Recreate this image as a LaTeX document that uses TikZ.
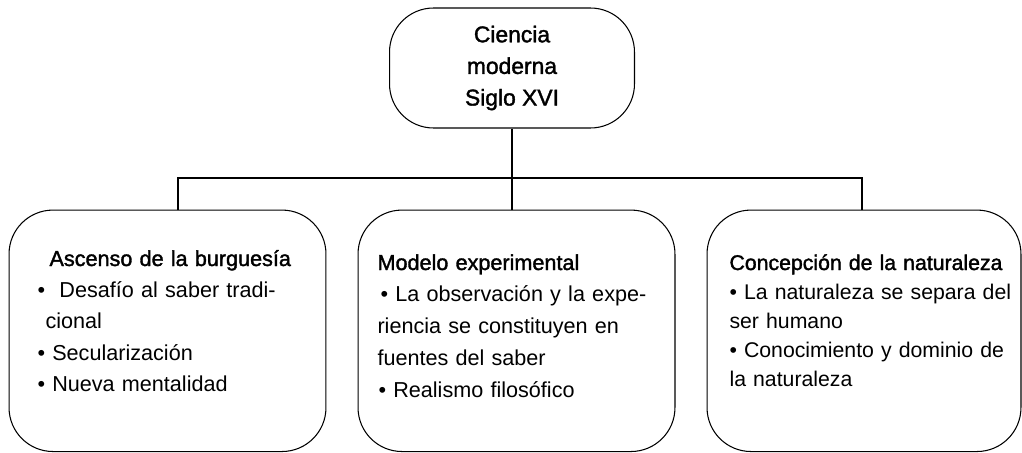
\documentclass[tikz,border=0pt]{standalone}
\usepackage{fontspec}
\setmainfont{Liberation Sans}
\newfontface\medfont{Liberation Sans}[FakeBold=1.6]
\usetikzlibrary{positioning}
\newcommand{\linea}[1]{\makebox[\linewidth][s]{#1}}
\tikzset{
  rama/.style = {draw, rounded corners=0.88cm, inner sep=0pt},
  lista/.style = {anchor=base west, inner sep=0pt}
}

\begin{document}
\begin{tikzpicture}[x=0.02cm, y=-0.02cm, line width=0.6pt]

  \useasboundingbox (0,0) rectangle (1022,453);

  %% Ciencia moderna

  % Main box
  \node[rama, minimum width=4.9cm, minimum height=2.4cm, align=center,
        font=\fontsize{13}{18}\medfont] (ciencia) at (512,68)
        {Ciencia\\ moderna\\ Siglo XVI};

  % Branch boxes
  \node[rama, minimum width=6.34cm, minimum height=4.83cm] (ascenso) at (167.5,330.8) {};
  \node[rama, minimum width=6.34cm, minimum height=4.83cm] (modelo) at (516.5,330.8) {};
  \node[rama, minimum width=6.28cm, minimum height=4.83cm] (concepcion) at (864,330.8) {};

  % Lists
  \node[lista, text width=5.12cm, font=\fontsize{12.3}{17.9}\selectfont] (ascensotxt) at (37,266)
    {\mbox{\hspace*{0.24cm}\medfont Ascenso de la burguesía}\\
     \linea{•\ \ Desafío al saber tradi-}\\
     \hspace*{0.16cm}cional\\
     • Secularización\\
     • Nueva mentalidad};
  \node[lista, text width=5.52cm, font=\fontsize{12.3}{18.1}\selectfont] (modelotxt) at (377,270)
    {\mbox{\medfont Modelo experimental}\\
     \linea{\hspace*{0.06cm}• La observación y la expe-}\\
     \linea{riencia se constituyen en}\\
     fuentes del saber\\
     \hspace*{0.02cm}• Realismo filosófico};
  \node[lista, text width=5.46cm, font=\fontsize{12.1}{16.6}\selectfont] (concepciontxt) at (729,270)
    {\mbox{\medfont Concepción de la naturaleza}\\
     \linea{• La naturaleza se separa del}\\
     ser humano\\
     \linea{• Conocimiento y dominio de}\\
     la naturaleza};

  % Connectors
  \coordinate (split) at (512,178);
  \coordinate (izq) at (178,178);
  \coordinate (der) at (862,178);
  \draw (ciencia.south) -- (ciencia.south |- modelo.north);
  \draw (izq |- ascenso.north) |- (split) -| (der |- concepcion.north);

\end{tikzpicture}
\end{document}
